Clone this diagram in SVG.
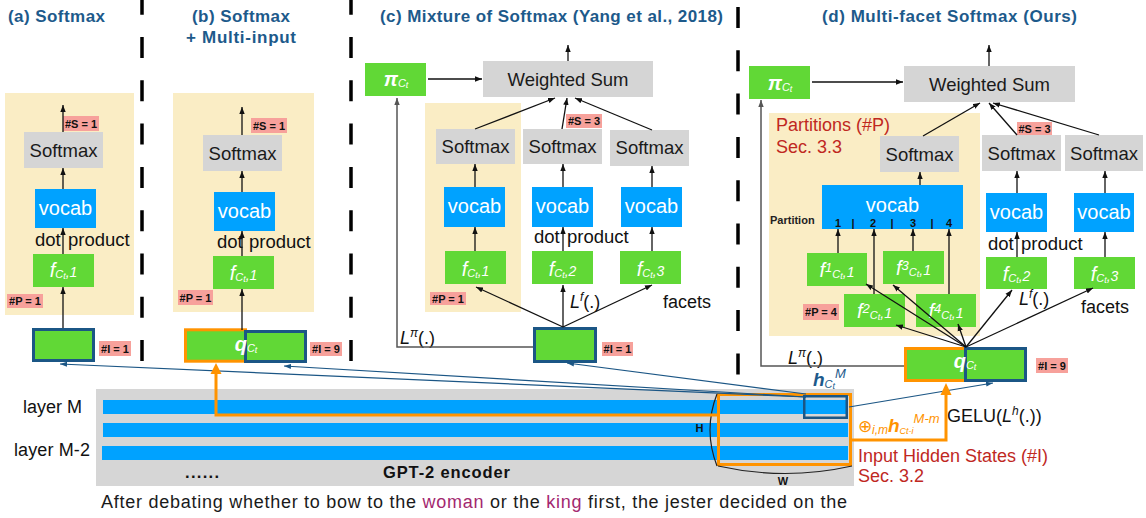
<svg xmlns="http://www.w3.org/2000/svg" width="1146" height="518" viewBox="0 0 1146 518">
<style>
text{font-family:"Liberation Sans",Arial,Helvetica,sans-serif;}
.title{font-size:17px;font-weight:bold;fill:#1D5A8B;}
.yel{fill:#FAEDC5;}
.gray{fill:#D5D5D5;}
.blue{fill:#00A2FF;}
.green{fill:#61D836;}
.pink{fill:#F7A19B;}
.lbl{font-size:11px;font-weight:bold;fill:#111;text-anchor:middle;}
.sm{font-size:18.5px;fill:#1a1a1a;text-anchor:middle;}
.voc{font-size:20px;fill:#fff;text-anchor:middle;}
.fi{font-size:20px;fill:#fff;font-style:italic;text-anchor:middle;}
.qb{font-size:20px;fill:#fff;font-style:italic;font-weight:bold;text-anchor:middle;}
.dp{font-size:18.5px;fill:#111;}
.inb{fill:#61D836;stroke:#1B5685;stroke-width:3;}
.inor{fill:#61D836;stroke:#FF9300;stroke-width:3;}
.sep{stroke:#000;stroke-width:3.5;stroke-dasharray:21 22.3;fill:none;}
.arr{stroke:#111;stroke-width:1.3;fill:none;marker-end:url(#ah);}
.garr{stroke:#555;stroke-width:1.5;fill:none;marker-end:url(#ahg);}
.barr{stroke:#1B5685;stroke-width:1.2;fill:none;marker-end:url(#ahb);}
.oline{stroke:#FF9300;stroke-width:3;fill:none;}
.red{fill:#C0281F;font-size:18px;}
.blk{fill:#111;font-size:18px;}
.ital{font-style:italic;}
.pnum{font-size:11px;font-weight:bold;fill:#111;text-anchor:middle;}
</style>
<defs>
<marker id="ah" markerWidth="8" markerHeight="6" refX="7" refY="3" orient="auto" markerUnits="userSpaceOnUse"><path d="M0,0.3 L7,3 L0,5.7z" fill="#111"/></marker>
<marker id="ahg" markerWidth="8" markerHeight="6" refX="7" refY="3" orient="auto" markerUnits="userSpaceOnUse"><path d="M0,0.3 L7,3 L0,5.7z" fill="#555"/></marker>
<marker id="ahb" markerWidth="8" markerHeight="6" refX="7" refY="3" orient="auto" markerUnits="userSpaceOnUse"><path d="M0,0.5 L7,3 L0,5.5z" fill="#1B5685"/></marker>
</defs>
<rect width="1146" height="518" fill="#fff"/>

<!-- separators -->
<g id="separators">
<line class="sep" x1="142" y1="0" x2="142" y2="362" stroke-dashoffset="6.3"/>
<line class="sep" x1="351" y1="0" x2="351" y2="362" stroke-dashoffset="6.3"/>
<line class="sep" x1="738" y1="7" x2="738" y2="377"/>
</g>

<!-- titles -->
<g id="titles">
<text class="title" x="8" y="22" textLength="97">(a) Softmax</text>
<text class="title" x="192" y="22" textLength="98">(b) Softmax</text>
<text class="title" x="186" y="43" textLength="110">+ Multi-input</text>
<text class="title" x="380" y="22" textLength="343">(c) Mixture of Softmax (Yang et al., 2018)</text>
<text class="title" x="822" y="22" textLength="255">(d) Multi-facet Softmax (Ours)</text>
</g>

<!-- panel backgrounds -->
<g id="a-bg"><rect class="yel" x="5" y="93" width="129" height="222"/></g>
<g id="b-bg"><rect class="yel" x="173" y="93" width="141" height="219"/></g>
<g id="c-bg"><rect class="yel" x="425" y="103" width="96" height="209"/></g>
<g id="d-bg"><rect class="yel" x="769" y="113" width="211" height="223"/>
<text class="red" x="776" y="131">Partitions (#P)</text>
<text class="red" x="776" y="153">Sec. 3.3</text></g>

<!-- encoder -->
<g id="encoder">
<rect x="96" y="389" width="758" height="97" fill="#D6D6D6"/>
<rect class="blue" x="103" y="400" width="745" height="14"/>
<rect class="blue" x="103" y="423" width="745" height="14"/>
<rect class="blue" x="102" y="446" width="746" height="14"/>
<text class="blk" x="23" y="413" font-size="17" textLength="59">layer M</text>
<text class="blk" x="14" y="456" font-size="17" textLength="76">layer M-2</text>
<text x="185" y="478" font-size="16.5" font-weight="bold" fill="#111" textLength="34">......</text>
<text x="383" y="478" font-size="16.5" font-weight="bold" fill="#111" textLength="127">GPT-2 encoder</text>
</g>

<g id="sentence">
<text x="101" y="508" font-size="18" fill="#1a1a1a" textLength="746">After debating whether to bow to the <tspan fill="#A3286F">woman</tspan> or the <tspan fill="#A3286F">king</tspan> first, the jester decided on the</text>
</g>

<!-- input hidden states window -->
<g id="hidden-window">
<rect x="718.5" y="394.5" width="132" height="70" fill="none" stroke="#FF9300" stroke-width="3"/>
<path d="M717,394 Q703,430 717,466" fill="none" stroke="#222" stroke-width="1.2"/>
<path d="M718,466 Q785,481 852,466" fill="none" stroke="#222" stroke-width="1.2"/>
<text class="pnum" x="699.5" y="432">H</text>
<text class="pnum" x="783" y="485">W</text>
</g>
<g id="h-box">
<rect x="804.25" y="396.25" width="42.5" height="21.5" fill="none" stroke="#1B5685" stroke-width="2.5"/>
<text x="813" y="386" fill="#1D5A8B" font-size="19" font-weight="bold" font-style="italic">h<tspan font-size="11" font-weight="normal" dy="2">C</tspan><tspan font-size="9" font-weight="normal" dy="1">t</tspan><tspan font-size="13" font-weight="normal" dy="-11">M</tspan></text>
</g>
<g id="hidden-label">
<text x="858" y="432" fill="#FF9300" font-size="17">⊕<tspan font-size="12" font-style="italic" dy="2">i,m</tspan><tspan font-size="19" font-weight="bold" font-style="italic" dy="-2">h</tspan><tspan font-size="9" font-style="italic" dy="2">Ct-i</tspan><tspan font-size="13" font-style="italic" dy="-11">M-m</tspan></text>
<text class="red" x="858" y="462">Input Hidden States (#I)</text>
<text class="red" x="858" y="482">Sec. 3.2</text>
</g>
<g id="gelu-label">
<text class="blk" x="947" y="422">GELU(<tspan class="ital">L</tspan><tspan font-size="12" class="ital" dy="-7">h</tspan><tspan dy="7">(.))</tspan></text>
</g>

<!-- Panel (a) -->
<g id="a-softmax"><rect class="gray" x="24" y="132" width="79" height="36"/><text class="sm" x="63.5" y="156.5">Softmax</text></g>
<g id="a-s1"><rect class="pink" x="63" y="116" width="36" height="15"/><text class="lbl" x="81" y="127.5">#S = 1</text></g>
<g id="a-vocab"><rect class="blue" x="35" y="189" width="61" height="39"/><text class="voc" x="65.5" y="215">vocab</text></g>
<g id="a-dot"><text class="dp" x="35" y="246">dot <tspan x="68">product</tspan></text></g>
<g id="a-f"><rect class="green" x="33" y="254" width="61" height="33"/><text class="fi" x="63.5" y="277">f<tspan font-size="11" dy="1">C</tspan><tspan font-size="9" dy="1">t</tspan><tspan font-size="14" dy="-2">,1</tspan></text></g>
<g id="a-p1"><rect class="pink" x="7" y="294" width="36" height="14"/><text class="lbl" x="25" y="305">#P = 1</text></g>
<g id="a-input"><rect class="inb" x="33.5" y="329.5" width="60" height="31"/></g>
<g id="a-i1"><rect class="pink" x="99" y="341" width="32" height="15"/><text class="lbl" x="115" y="352.5">#I = 1</text></g>

<!-- Panel (b) -->
<g id="b-softmax"><rect class="gray" x="203" y="135" width="79" height="36"/><text class="sm" x="242.5" y="159.5">Softmax</text></g>
<g id="b-s1"><rect class="pink" x="251" y="118" width="36" height="15"/><text class="lbl" x="269" y="129.5">#S = 1</text></g>
<g id="b-vocab"><rect class="blue" x="214" y="192" width="61" height="39"/><text class="voc" x="244.5" y="218">vocab</text></g>
<g id="b-dot"><text class="dp" x="217" y="248">dot <tspan x="249">product</tspan></text></g>
<g id="b-f"><rect class="green" x="213" y="256" width="61" height="33"/><text class="fi" x="243.5" y="280">f<tspan font-size="11" dy="1">C</tspan><tspan font-size="9" dy="1">t</tspan><tspan font-size="14" dy="-2">,1</tspan></text></g>
<g id="b-p1"><rect class="pink" x="178" y="290" width="35" height="15"/><text class="lbl" x="195.5" y="301.5">#P = 1</text></g>
<g id="b-input"><rect class="inor" x="185.5" y="329.8" width="60" height="31.4"/><rect class="inb" x="245.5" y="331.5" width="60" height="30"/><text class="qb" x="246" y="351">q<tspan font-size="11" font-weight="normal" dy="1">C</tspan><tspan font-size="9" font-weight="normal" dy="1">t</tspan></text></g>
<g id="b-i9"><rect class="pink" x="310" y="342" width="32" height="14"/><text class="lbl" x="326" y="353">#I = 9</text></g>

<!-- Panel (c) -->
<g id="c-pi"><rect class="green" x="365" y="63" width="61" height="33"/><text class="qb" x="396" y="86">π<tspan font-size="11" font-weight="normal" dy="1">C</tspan><tspan font-size="9" font-weight="normal" dy="1">t</tspan></text></g>
<g id="c-ws"><rect class="gray" x="483" y="61" width="170" height="36"/><text class="sm" x="568" y="86">Weighted Sum</text></g>
<g id="c-softmax1"><rect class="gray" x="436" y="129" width="79" height="35"/><text class="sm" x="475.5" y="153">Softmax</text></g>
<g id="c-softmax2"><rect class="gray" x="523" y="129" width="79" height="35"/><text class="sm" x="562.5" y="153">Softmax</text></g>
<g id="c-softmax3"><rect class="gray" x="610" y="130" width="79" height="36"/><text class="sm" x="649.5" y="154">Softmax</text></g>
<g id="c-s3"><rect class="pink" x="566" y="114" width="36" height="14"/><text class="lbl" x="584" y="125">#S = 3</text></g>
<g id="c-vocab1"><rect class="blue" x="444" y="187" width="61" height="40"/><text class="voc" x="474.5" y="213">vocab</text></g>
<g id="c-vocab2"><rect class="blue" x="532" y="187" width="61" height="40"/><text class="voc" x="562.5" y="213">vocab</text></g>
<g id="c-vocab3"><rect class="blue" x="621" y="187" width="61" height="40"/><text class="voc" x="651.5" y="213">vocab</text></g>
<g id="c-dot"><text class="dp" x="534" y="243">dot <tspan x="567">product</tspan></text></g>
<g id="c-f1"><rect class="green" x="445" y="251" width="61" height="33"/><text class="fi" x="475.5" y="275.5">f<tspan font-size="11" dy="1">C</tspan><tspan font-size="9" dy="1">t</tspan><tspan font-size="14" dy="-2">,1</tspan></text></g>
<g id="c-f2"><rect class="green" x="532" y="251" width="61" height="33"/><text class="fi" x="562.5" y="275.5">f<tspan font-size="11" dy="1">C</tspan><tspan font-size="9" dy="1">t</tspan><tspan font-size="14" dy="-2">,2</tspan></text></g>
<g id="c-f3"><rect class="green" x="620" y="251" width="61" height="33"/><text class="fi" x="650.5" y="275.5">f<tspan font-size="11" dy="1">C</tspan><tspan font-size="9" dy="1">t</tspan><tspan font-size="14" dy="-2">,3</tspan></text></g>
<g id="c-p1"><rect class="pink" x="430" y="292" width="36" height="13"/><text class="lbl" x="448" y="302.5">#P = 1</text></g>
<g id="c-input"><rect class="inb" x="534.5" y="328.5" width="61" height="33"/></g>
<g id="c-i1"><rect class="pink" x="602" y="342" width="31" height="14"/><text class="lbl" x="617.5" y="353">#I = 1</text></g>
<g id="c-labels">
<text class="blk" x="570" y="308"><tspan class="ital">L</tspan><tspan font-size="12" class="ital" dy="-7">f</tspan><tspan dy="7">(.)</tspan></text>
<text class="blk" x="663" y="308" font-size="18.5">facets</text>
<text class="blk" x="400" y="344"><tspan class="ital">L</tspan><tspan font-size="12" class="ital" dy="-7">π</tspan><tspan dy="7">(.)</tspan></text>
</g>

<!-- Panel (d) -->
<g id="d-pi"><rect class="green" x="749" y="66" width="61" height="33"/><text class="qb" x="780" y="90">π<tspan font-size="11" font-weight="normal" dy="1">C</tspan><tspan font-size="9" font-weight="normal" dy="1">t</tspan></text></g>
<g id="d-ws"><rect class="gray" x="904" y="66" width="171" height="36"/><text class="sm" x="989.5" y="91">Weighted Sum</text></g>
<g id="d-softmax1"><rect class="gray" x="880" y="136" width="79" height="36"/><text class="sm" x="919.5" y="160.5">Softmax</text></g>
<g id="d-softmax2"><rect class="gray" x="982" y="135" width="79" height="36"/><text class="sm" x="1021.5" y="159.5">Softmax</text></g>
<g id="d-softmax3"><rect class="gray" x="1065" y="135" width="78" height="36"/><text class="sm" x="1104" y="159.5">Softmax</text></g>
<g id="d-s3"><rect class="pink" x="1017" y="122" width="35" height="13"/><text class="lbl" x="1034.5" y="132.5">#S = 3</text></g>
<g id="d-vocab-part">
<rect class="blue" x="822" y="185" width="141" height="44"/>
<text class="voc" x="892.5" y="212">vocab</text>
<text class="pnum" x="838" y="226.5">1</text>
<text class="pnum" x="853" y="226.5">|</text>
<text class="pnum" x="873" y="226.5">2</text>
<text class="pnum" x="892" y="226.5">|</text>
<text class="pnum" x="913" y="226.5">3</text>
<text class="pnum" x="932" y="226.5">|</text>
<text class="pnum" x="949" y="226.5">4</text>
<text x="770" y="224" font-size="11" font-weight="bold" fill="#222">Partition</text>
</g>
<g id="d-vocab2"><rect class="blue" x="986" y="193" width="61" height="39"/><text class="voc" x="1016.5" y="219">vocab</text></g>
<g id="d-vocab3"><rect class="blue" x="1074" y="193" width="60" height="39"/><text class="voc" x="1104" y="219">vocab</text></g>
<g id="d-dot"><text class="dp" x="988" y="250">dot <tspan x="1021">product</tspan></text></g>
<g id="d-f1"><rect class="green" x="807" y="253" width="60" height="33"/><text class="fi" x="837" y="277">f<tspan font-size="13" dy="-5">1</tspan><tspan font-size="11" dy="6">C</tspan><tspan font-size="9" dy="1">t</tspan><tspan font-size="14" dy="-2">,1</tspan></text></g>
<g id="d-f3"><rect class="green" x="883" y="251" width="61" height="33"/><text class="fi" x="913.5" y="275">f<tspan font-size="13" dy="-5">3</tspan><tspan font-size="11" dy="6">C</tspan><tspan font-size="9" dy="1">t</tspan><tspan font-size="14" dy="-2">,1</tspan></text></g>
<g id="d-f2"><rect class="green" x="844" y="294" width="61" height="33"/><text class="fi" x="874.5" y="318">f<tspan font-size="13" dy="-5">2</tspan><tspan font-size="11" dy="6">C</tspan><tspan font-size="9" dy="1">t</tspan><tspan font-size="14" dy="-2">,1</tspan></text></g>
<g id="d-f4"><rect class="green" x="916" y="294" width="60" height="33"/><text class="fi" x="946" y="318">f<tspan font-size="13" dy="-5">4</tspan><tspan font-size="11" dy="6">C</tspan><tspan font-size="9" dy="1">t</tspan><tspan font-size="14" dy="-2">,1</tspan></text></g>
<g id="d-fc2"><rect class="green" x="986" y="257" width="61" height="32"/><text class="fi" x="1016.5" y="280.5">f<tspan font-size="11" dy="1">C</tspan><tspan font-size="9" dy="1">t</tspan><tspan font-size="14" dy="-2">,2</tspan></text></g>
<g id="d-fc3"><rect class="green" x="1074" y="257" width="61" height="32"/><text class="fi" x="1104.5" y="280.5">f<tspan font-size="11" dy="1">C</tspan><tspan font-size="9" dy="1">t</tspan><tspan font-size="14" dy="-2">,3</tspan></text></g>
<g id="d-p4"><rect class="pink" x="803" y="304" width="36" height="16"/><text class="lbl" x="821" y="316">#P = 4</text></g>
<g id="d-input"><rect class="inor" x="905.5" y="348.5" width="60" height="32"/><rect class="inb" x="965.5" y="348.5" width="60" height="32"/><text class="qb" x="965" y="368">q<tspan font-size="11" font-weight="normal" dy="1">C</tspan><tspan font-size="9" font-weight="normal" dy="1">t</tspan></text></g>
<g id="d-i9"><rect class="pink" x="1036" y="358" width="32" height="15"/><text class="lbl" x="1052" y="369.5">#I = 9</text></g>
<g id="d-labels">
<text class="blk" x="1019" y="305"><tspan class="ital">L</tspan><tspan font-size="12" class="ital" dy="-7">f</tspan><tspan dy="7">(.)</tspan></text>
<text class="blk" x="1081" y="313" font-size="18.5">facets</text>
<text class="blk" x="788" y="364"><tspan class="ital">L</tspan><tspan font-size="12" class="ital" dy="-7">π</tspan><tspan dy="7">(.)</tspan></text>
</g>

<!-- connectors -->
<g id="connectors">
<!-- a -->
<line class="arr" x1="63" y1="132" x2="63" y2="105"/>
<line class="arr" x1="63" y1="189" x2="63" y2="168"/>
<line class="arr" x1="63" y1="254" x2="63" y2="228"/>
<line class="arr" x1="63" y1="328" x2="63" y2="287"/>
<!-- b -->
<line class="arr" x1="242" y1="135" x2="242" y2="107"/>
<line class="arr" x1="242" y1="192" x2="242" y2="171"/>
<line class="arr" x1="242" y1="256" x2="242" y2="231"/>
<line class="arr" x1="242" y1="330" x2="242" y2="289"/>
<!-- c -->
<line class="arr" x1="428" y1="79" x2="482" y2="79"/>
<line class="arr" x1="568" y1="61" x2="568" y2="45"/>
<line class="arr" x1="475" y1="129" x2="555" y2="98"/>
<line class="arr" x1="562" y1="129" x2="567" y2="98"/>
<line class="arr" x1="652" y1="130" x2="575" y2="98"/>
<line class="arr" x1="475" y1="187" x2="475" y2="164"/>
<line class="arr" x1="563" y1="187" x2="563" y2="164"/>
<line class="arr" x1="652" y1="187" x2="652" y2="166"/>
<line class="arr" x1="475" y1="251" x2="475" y2="227"/>
<line class="arr" x1="563" y1="251" x2="563" y2="227"/>
<line class="arr" x1="652" y1="251" x2="652" y2="227"/>
<line class="arr" x1="563" y1="327" x2="476" y2="287"/>
<line class="arr" x1="563" y1="327" x2="563" y2="285"/>
<line class="arr" x1="563" y1="327" x2="652" y2="285"/>
<path class="garr" d="M533,347 H397 V98"/>
<!-- d -->
<line class="arr" x1="812" y1="82" x2="903" y2="82"/>
<line class="arr" x1="989" y1="66" x2="989" y2="45"/>
<line class="arr" x1="923" y1="136" x2="980" y2="103"/>
<line class="arr" x1="1017" y1="135" x2="989" y2="103"/>
<line class="arr" x1="1099" y1="135" x2="993" y2="103"/>
<line class="arr" x1="920" y1="185" x2="920" y2="172"/>
<line class="arr" x1="1017" y1="193" x2="1017" y2="171"/>
<line class="arr" x1="1105" y1="193" x2="1105" y2="171"/>
<line class="arr" x1="838" y1="253" x2="838" y2="229"/>
<line class="arr" x1="874" y1="294" x2="874" y2="229"/>
<line class="arr" x1="913" y1="251" x2="913" y2="229"/>
<line class="arr" x1="949" y1="294" x2="949" y2="229"/>
<line class="arr" x1="1017" y1="257" x2="1017" y2="232"/>
<line class="arr" x1="1105" y1="257" x2="1105" y2="232"/>
<line class="arr" x1="966" y1="347" x2="866" y2="284"/>
<line class="arr" x1="966" y1="347" x2="893" y2="285"/>
<line class="arr" x1="966" y1="347" x2="896" y2="325"/>
<line class="arr" x1="966" y1="347" x2="958" y2="324"/>
<line class="arr" x1="966" y1="347" x2="1012" y2="290"/>
<line class="arr" x1="966" y1="347" x2="1093" y2="288"/>
<path class="garr" d="M904,366 H761 V100"/>
<!-- blue from h -->
<line class="barr" x1="806" y1="397" x2="60" y2="364"/>
<line class="barr" x1="806" y1="397" x2="284" y2="366"/>
<line class="barr" x1="806" y1="394" x2="567" y2="363"/>
<line class="barr" x1="849" y1="407" x2="993" y2="383"/>
<!-- orange -->
<path class="oline" d="M717,415 H216 V372"/>
<polygon points="210.5,374 221.5,374 216,363" fill="#FF9300"/>
<path class="oline" d="M852,440 H946 V393"/>
<polygon points="940.5,395 951.5,395 946,383" fill="#FF9300"/>
</g>
</svg>
